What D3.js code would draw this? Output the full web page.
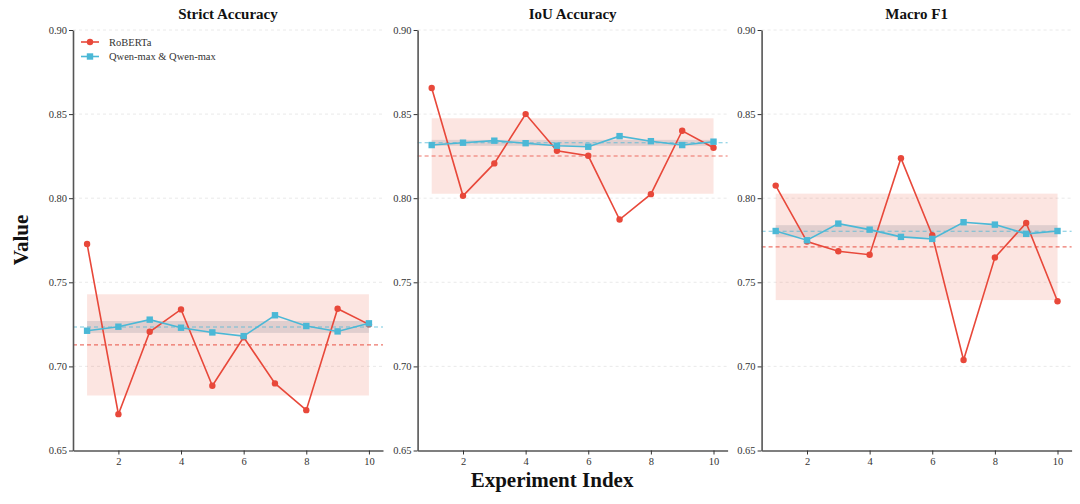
<!DOCTYPE html>
<html><head><meta charset="utf-8">
<script src="https://cdn.jsdelivr.net/npm/d3@7"></script>
<style>body{margin:0;background:#fff}svg{display:block}</style>
</head><body><svg id="c" width="1080" height="504"></svg>
<script>
const experiments = [1,2,3,4,5,6,7,8,9,10];
const panelTitles = ["Strict Accuracy","IoU Accuracy","Macro F1"];
const seriesNames = ["RoBERTa","Qwen-max & Qwen-max"];
const yTicks = [0.65,0.70,0.75,0.80,0.85,0.90];
const xTicks = [2,4,6,8,10];
const robertaStrict = [0.7728,0.6716,0.7206,0.7339,0.6885,0.7173,0.6899,0.6740,0.7343,0.7250];
const qwenStrict    = [0.7212,0.7236,0.7278,0.7230,0.7202,0.7180,0.7304,0.7240,0.7208,0.7256];
const robertaIoU    = [0.8655,0.8014,0.8207,0.8500,0.8282,0.8252,0.7873,0.8024,0.8401,0.8300];
const qwenIoU       = [0.8316,0.8330,0.8342,0.8327,0.8312,0.8306,0.8369,0.8339,0.8316,0.8336];
const robertaF1     = [0.8075,0.7742,0.7685,0.7664,0.8238,0.7780,0.7038,0.7647,0.7853,0.7387];
const qwenF1        = [0.7805,0.7750,0.7849,0.7813,0.7770,0.7758,0.7857,0.7843,0.7788,0.7805];

const panels = [[robertaStrict,qwenStrict],[robertaIoU,qwenIoU],[robertaF1,qwenF1]];
const colors = ["#e8483a","#4bb8d6"];
const bandFill = ["rgba(236,100,80,0.17)","rgba(140,140,150,0.25)"];
const font = "'Liberation Serif','Times New Roman',serif";

const svg = d3.select("#c");
const lefts = [73, 417.6, 761.6];
const pw = 310, plotTop = 30, plotBottom = 450.5;
const y = d3.scaleLinear().domain([0.65,0.90]).range([plotBottom, plotTop]);

panels.forEach((ser, pi) => {
  const x = d3.scaleLinear().domain([0.55,10.45]).range([lefts[pi], lefts[pi]+pw]);
  const g = svg.append("g");
  g.selectAll(".grid").data(yTicks.slice(1)).enter().append("line")
    .attr("x1", x.range()[0]).attr("x2", x.range()[1])
    .attr("y1", d=>y(d)).attr("y2", d=>y(d))
    .attr("stroke","#e4e4e4").attr("stroke-width",0.8).attr("stroke-dasharray","3,3");
  ser.forEach((vals, si) => {
    const m = d3.mean(vals);
    const s = Math.sqrt(d3.mean(vals, v => (v-m)*(v-m)));
    g.append("rect").attr("x", x(1)).attr("width", x(10)-x(1))
      .attr("y", y(m+s)).attr("height", y(m-s)-y(m+s))
      .attr("fill", bandFill[si]);
  });
  ser.forEach((vals, si) => {
    const m = d3.mean(vals);
    g.append("line").attr("x1", x.range()[0]).attr("x2", x.range()[1])
      .attr("y1", y(m)).attr("y2", y(m))
      .attr("stroke", colors[si]).attr("stroke-width",1.1).attr("stroke-dasharray","4,3").attr("opacity",0.75);
  });
  const line = d3.line().x((d,i)=>x(experiments[i])).y(d=>y(d));
  ser.forEach((vals, si) => {
    g.append("path").attr("d", line(vals)).attr("fill","none")
      .attr("stroke", colors[si]).attr("stroke-width",1.6);
    if (si===0) {
      g.selectAll(".pt"+si).data(vals).enter().append("circle")
        .attr("cx",(d,i)=>x(experiments[i])).attr("cy",d=>y(d)).attr("r",3.2).attr("fill",colors[si]);
    } else {
      g.selectAll(".pt"+si).data(vals).enter().append("rect")
        .attr("x",(d,i)=>x(experiments[i])-3.2).attr("y",d=>y(d)-3.2)
        .attr("width",6.4).attr("height",6.4).attr("fill",colors[si]);
    }
  });
  const ya = g.append("g").attr("transform",`translate(${x.range()[0]},0)`)
    .call(d3.axisLeft(y).tickValues(yTicks).tickFormat(d3.format(".2f")).tickSize(4).tickSizeOuter(0));
  const xa = g.append("g").attr("transform",`translate(0,${plotBottom})`)
    .call(d3.axisBottom(x).tickValues(xTicks).tickSize(4).tickSizeOuter(0));
  [ya, xa].forEach(a => {
    a.select(".domain").attr("stroke","#555").attr("stroke-width",1.6);
    a.selectAll(".tick line").attr("stroke","#333").attr("stroke-width",1);
    a.selectAll(".tick text").attr("font-family",font).attr("font-size",10.5).attr("fill","#333");
  });
  ya.selectAll(".tick text").attr("x",-6);
  xa.selectAll(".tick text").attr("y",7);
  svg.append("text").attr("x", (x.range()[0]+x.range()[1])/2).attr("y", 19)
    .attr("text-anchor","middle").attr("font-family",font).attr("font-weight","bold")
    .attr("font-size",15).attr("fill","#111").text(panelTitles[pi]);
});

const lg = svg.append("g");
seriesNames.forEach((n, i) => {
  const yy = 42 + i*14.5;
  lg.append("line").attr("x1",81).attr("x2",99).attr("y1",yy).attr("y2",yy)
    .attr("stroke",colors[i]).attr("stroke-width",1.6);
  if (i===0) lg.append("circle").attr("cx",90).attr("cy",yy).attr("r",3.2).attr("fill",colors[i]);
  else lg.append("rect").attr("x",86.8).attr("y",yy-3.2).attr("width",6.4).attr("height",6.4).attr("fill",colors[i]);
  lg.append("text").attr("x",109).attr("y",yy+3.5).attr("font-family",font).attr("font-size",10.5)
    .attr("fill","#333").text(n);
});

svg.append("text").attr("transform","translate(28,240) rotate(-90)").attr("text-anchor","middle")
  .attr("font-family",font).attr("font-weight","bold").attr("font-size",21).attr("fill","#111").text("Value");
svg.append("text").attr("x",552).attr("y",487).attr("text-anchor","middle")
  .attr("font-family",font).attr("font-weight","bold").attr("font-size",21).attr("fill","#111").text("Experiment Index");
</script></body></html>
